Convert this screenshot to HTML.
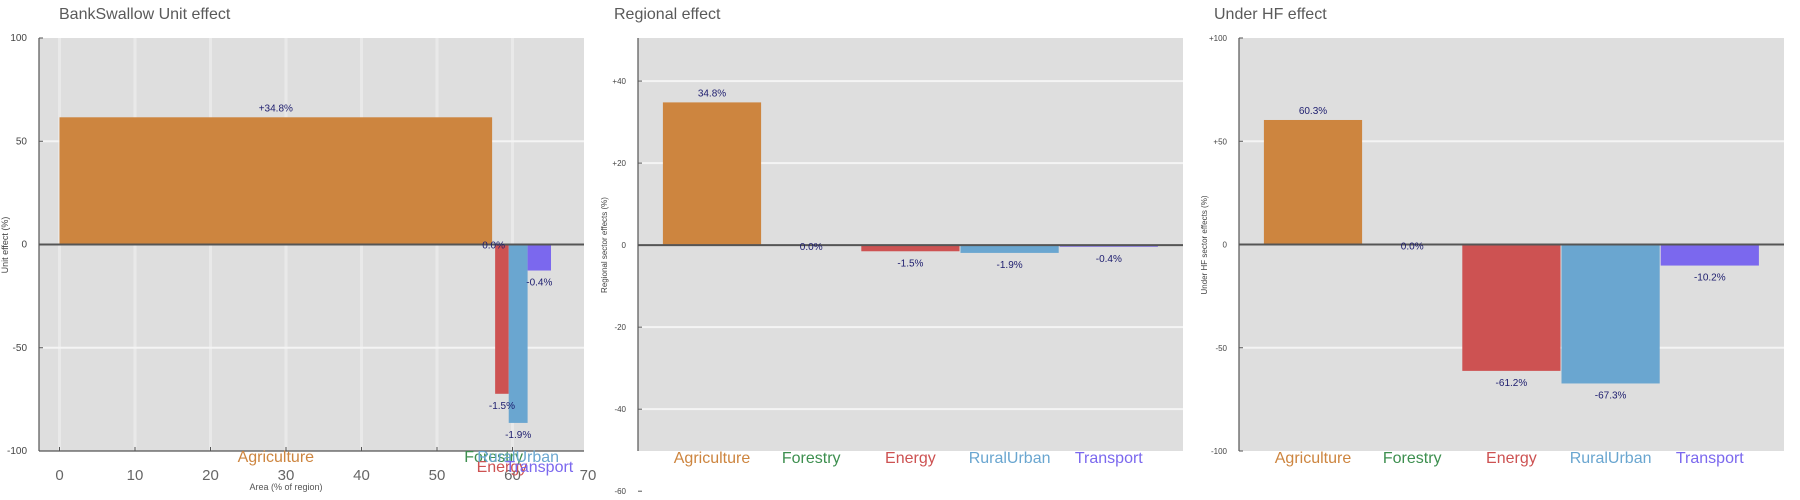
<!DOCTYPE html>
<html><head><meta charset="utf-8"><style>
body{margin:0;background:#fff;width:1800px;height:500px;overflow:hidden;font-family:"Liberation Sans",sans-serif}
svg{display:block}
</style></head><body>
<svg id="chart" width="1800" height="500" xmlns="http://www.w3.org/2000/svg"></svg>
<script>
const categories = ["Agriculture","Forestry","Energy","RuralUrban","Transport"];
const colors = ["#cd853f","#3d8f4f","#cd5252","#6aa6d0","#7b68ee"];
// Panel 1: unit effect with area widths
const areaStart = [0, 57.3, 57.7, 59.5, 62.0];
const areaEnd = [57.3, 57.7, 59.5, 62.0, 65.1];
const unitValues = [61.6, 0, -72.3, -86.4, -12.6];
const unitLabels = ["+34.8%","0.0%","-1.5%","-1.9%","-0.4%"];
const unitYTicks = [100, 50, 0, -50, -100];
const unitXTicks = [0,10,20,30,40,50,60,70];
// Panel 2: regional
const regionalValues = [34.8, 0, -1.5, -1.9, -0.4];
const regionalLabels = ["34.8%","0.0%","-1.5%","-1.9%","-0.4%"];
const regionalYTicks = [40, 20, 0, -20, -40, -60];
const regionalTickText = ["+40","+20","0","-20","-40","-60"];
// Panel 3: under HF
const hfValues = [60.3, 0, -61.2, -67.3, -10.2];
const hfLabels = ["60.3%","0.0%","-61.2%","-67.3%","-10.2%"];
const hfYTicks = [100, 50, 0, -50, -100];
const hfTickText = ["+100","+50","0","-50","-100"];

const svg = document.getElementById('chart');
const NS = "http://www.w3.org/2000/svg";
function mk(tag, attrs, parent, text){
  const e = document.createElementNS(NS, tag);
  for (const k in attrs) e.setAttribute(k, attrs[k]);
  if (text !== undefined) e.textContent = text;
  (parent||svg).appendChild(e); return e;
}
const TOP = 38, BOT = 451, W = 545;

function panelBase(left, titleX, title, ymin, ymax, name){
  const g = mk('g', {});
  
  
  const y = v => TOP + (ymax - v) / (ymax - ymin) * (BOT - TOP);
  const bg = mk('rect', {x:left, y:TOP, width:W, height:BOT-TOP, fill:'#dedede'}, g);
  
  
  const t = mk('text', {x:titleX, y:19, 'font-size':16, fill:'#5a5a5a'}, g, title);
  
  
  return {g, y};
}
function yTitle(x, text, size, g){
  const t = mk('text', {x:x, y:245, 'font-size':size, fill:'#444', 'text-anchor':'middle', transform:`rotate(-90 ${x} 245)`}, g, text);
  
  
}
function yAxis(left, ticks, texts, y, size, g){
  ticks.forEach((v,i)=>{
    const yy = y(v);
    if (v !== 0 && yy > TOP+2 && yy < BOT-2){
      const gl = mk('line', {x1:left, x2:left+W, y1:yy, y2:yy, stroke:'#f4f4f4', 'stroke-width':2}, g);
      
      
    }
    mk('line', {x1:left, x2:left+4, y1:yy, y2:yy, stroke:'#555', 'stroke-width':1}, g);
    const t = mk('text', {x:left-12, y:yy+3, 'font-size':size, fill:'#444', 'text-anchor':'end'}, g, texts[i]);
    
    
  });
  const ax = mk('line', {x1:left, x2:left, y1:TOP, y2:BOT, stroke:'#555', 'stroke-width':1.2}, g);
  
  
}
function zeroLine(left, y, g){
  const z = mk('line', {x1:left, x2:left+W, y1:y(0), y2:y(0), stroke:'#555', 'stroke-width':2}, g);
  
  
}
function valLabel(x, yy, text, g){
  const t = mk('text', {x:x, y:yy, 'font-size':10, fill:'#1c1c6e', 'text-anchor':'middle'}, g, text);
  
  
}

// ---------- Panel 1 ----------
(function(){
  const left = 39;
  const {g, y} = panelBase(left, 59, "BankSwallow Unit effect", -100, 100, 'unit-effect-panel');
  const x = v => 59.5 + 7.55 * v;
  unitXTicks.forEach(v=>{
    if (x(v) < left+W){
      const gl = mk('line', {x1:x(v), x2:x(v), y1:TOP, y2:BOT, stroke:'#e9e9e9', 'stroke-width':3}, g);
      
      
    }
  });
  yAxis(left, unitYTicks, unitYTicks.map(String), y, 10, g);
  yTitle(8, "Unit effect (%)", 9, g);
  categories.forEach((c,i)=>{
    const y0 = y(Math.max(0, unitValues[i])), y1 = y(Math.min(0, unitValues[i]));
    const r = mk('rect', {x:x(areaStart[i]), y:y0, width:x(areaEnd[i])-x(areaStart[i]), height:Math.max(0,y1-y0), fill:colors[i]}, g);
    
    
  });
  zeroLine(left, y, g);
  const bax = mk('line', {x1:left, x2:left+W, y1:BOT, y2:BOT, stroke:'#555', 'stroke-width':1.2}, g);
  
  
  unitXTicks.forEach(v=>{
    if (x(v) < left+W) mk('line', {x1:x(v), x2:x(v), y1:BOT, y2:BOT-4, stroke:'#555'}, g);
    const t = mk('text', {x:x(v), y:480, 'font-size':15, fill:'#666', 'text-anchor':'middle'}, g, String(v));
    
    
  });
  const xt = mk('text', {x:x(30), y:490, 'font-size':9, fill:'#555', 'text-anchor':'middle'}, g, "Area (% of region)");
  
  
  categories.forEach((c,i)=>{
    const v = unitValues[i], cx = x((areaStart[i]+areaEnd[i])/2);
    if (v > 0) valLabel(cx, y(v)-6, unitLabels[i], g);
    else if (v === 0) valLabel(cx, y(0)+4, unitLabels[i], g);
    else valLabel(cx, y(v)+15, unitLabels[i], g);
    const ly = (i === 2 || i === 4) ? 472 : 462;
    const t = mk('text', {x:cx, y:ly, 'font-size':16, fill:colors[i], 'text-anchor':'middle'}, g, c);
    
    
  });
})();

// ---------- Panels 2 and 3 ----------
function catPanel(left, titleX, title, ytitle, ytx, vals, labels, ticks, tickText, ymin, ymax, name){
  const {g, y} = panelBase(left, titleX, title, ymin, ymax, name);
  yAxis(left, ticks, tickText, y, 8, g);
  yTitle(ytx, ytitle, 8, g);
  const band = 99.2, x0 = left + 74;
  const cx = i => x0 + band * i;
  categories.forEach((c,i)=>{
    const v = vals[i];
    const y0 = y(Math.max(0, v)), y1 = y(Math.min(0, v));
    const r = mk('rect', {x:cx(i)-band/2+0.5, y:y0, width:band-1, height:Math.max(0,y1-y0), fill:colors[i]}, g);
    
    
  });
  zeroLine(left, y, g);
  categories.forEach((c,i)=>{
    const v = vals[i];
    if (v > 0) valLabel(cx(i), y(v)-6, labels[i], g);
    else if (v === 0) valLabel(cx(i), y(0)+5, labels[i], g);
    else valLabel(cx(i), Math.max(y(v)+15, y(0)+15), labels[i], g);
    const t = mk('text', {x:cx(i), y:463, 'font-size':16, fill:colors[i], 'text-anchor':'middle'}, g, c);
    
    
  });
}
catPanel(638, 614, "Regional effect", "Regional sector effects (%)", 607, regionalValues, regionalLabels, regionalYTicks, regionalTickText, -50.2, 50.5, 'regional-effect-panel');
catPanel(1239, 1214, "Under HF effect", "Under HF sector effects (%)", 1207, hfValues, hfLabels, hfYTicks, hfTickText, -100, 100, 'under-hf-effect-panel');
</script>
</body></html>
